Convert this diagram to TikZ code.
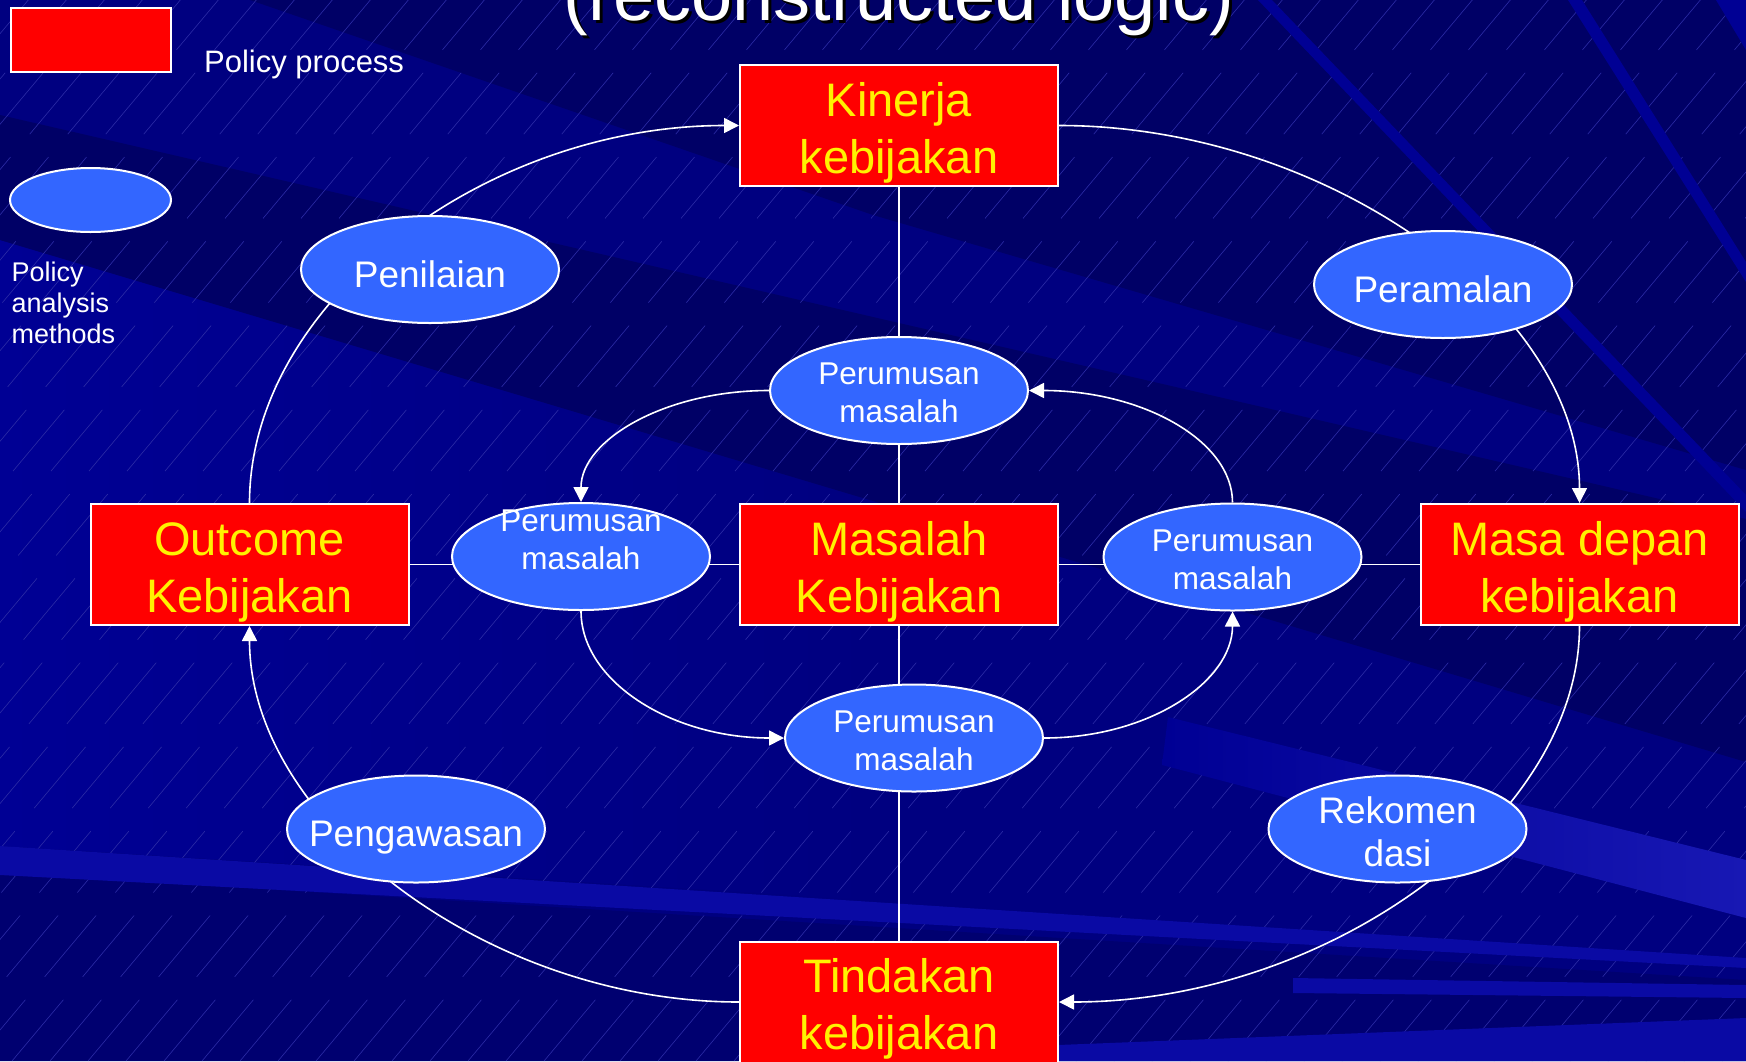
\documentclass[tikz,border=0pt]{standalone}
\usepackage{fontspec}
\setmainfont{Liberation Sans}
\usetikzlibrary{shapes.geometric,arrows.meta}
\definecolor{navy}{HTML}{000080}
\definecolor{navydark}{HTML}{000066}
\definecolor{navydeep}{HTML}{000070}
\definecolor{navymid}{HTML}{000094}
\definecolor{navystreak}{HTML}{000094}
\definecolor{navylight}{HTML}{0A0AA4}
\definecolor{navybright}{HTML}{1818B4}
\definecolor{hatch}{HTML}{2C2CA6}
\definecolor{boxred}{HTML}{FF0000}
\definecolor{ovalblue}{HTML}{3366FF}
\pgfdeclarelayer{back}
\pgfdeclarelayer{lines}
\pgfsetlayers{back,lines,main}
\tikzset{
  procbox/.style={draw=white, line width=2pt, fill=boxred, text=yellow,
    minimum width=318pt, minimum height=121pt, inner sep=0pt, align=center,
    font=\fontsize{47}{57}\selectfont, text height=100pt, text depth=5pt},
  methodoval/.style={ellipse, draw=white, line width=2pt, fill=ovalblue, text=white,
    minimum width=258pt, minimum height=107pt, inner xsep=-20pt, inner ysep=0pt,
    align=center, font=\fontsize{37}{43}\selectfont, text height=35pt, text depth=0pt},
  pmoval/.style={methodoval, font=\fontsize{31.5}{38}\selectfont, text height=64pt},
  link/.style={white, line width=1.6pt},
  flow/.style={link, -{Triangle[length=15pt,width=15pt]}},
  hatchline/.style={hatch, line width=0.6pt, dash pattern=on 80pt off 30pt},
}

\begin{document}
\begin{tikzpicture}[x=1pt,y=-1pt]
\useasboundingbox (0,0) rectangle (1746,1061);

% background of the slide
\begin{pgfonlayer}{back}
\fill[navy] (0,0) rectangle (1746,1061);
\shade[left color=navymid, right color=navy] (0,240) -- (0,846) -- (873,900) -- (873,500) -- cycle;
\fill[navydark] (250,0) -- (1746,0) -- (1746,470) -- (873,215) -- cycle;
\fill[navydark] (0,115) -- (1746,519) -- (1746,762) -- (0,240) -- cycle;
\fill[navydeep] (0,873) -- (1746,980) -- (1746,1061) -- (0,1061) -- cycle;
\foreach \i in {0,...,70} {
  \draw[hatchline] (\i*38-900,1061) -- ++(-50:1400);
}
\shade[left color=navystreak, right color=navybright] (1168,717) -- (1746,860) -- (1746,918) -- (1162,765) -- cycle;
\fill[navylight] (0,846) -- (1746,958) -- (1746,968) -- (0,875) -- cycle;
\fill[navylight] (1293,978) -- (1746,985) -- (1746,998) -- (1293,993) -- cycle;
\fill[navylight] (1058,1061) -- (1058,1045) -- (1746,1018) -- (1746,1061) -- cycle;
\fill[navystreak] (1258,0) -- (1272,0) -- (1746,495) -- (1746,512) -- cycle;
\fill[navystreak] (1568,0) -- (1582,0) -- (1746,262) -- (1746,282) -- cycle;
\fill[navystreak] (1716,0) -- (1746,0) -- (1746,50) -- cycle;
\end{pgfonlayer}

% title, cut by the top of the slide
\begin{scope}
\clip (0,0) rectangle (1746,1061);
\node[anchor=base, text=black, font=\fontsize{74}{80}\selectfont] (titleshadow) at (902,23) {(reconstructed logic)};
\node[anchor=base, text=white, font=\fontsize{74}{80}\selectfont] (title) at (899,20) {(reconstructed logic)};
\end{scope}

% legend
\node[draw=white, line width=2pt, fill=boxred, minimum width=160pt, minimum height=64pt] (legbox) at (90.5,39.5) {};
\node[anchor=base west, inner sep=0pt, text=white, font=\fontsize{31}{37}\selectfont] (legboxtext) at (204,72) {Policy process};
\node[ellipse, draw=white, line width=2pt, fill=ovalblue, minimum width=161pt, minimum height=64pt] (legoval) at (90.5,200) {};
\node[anchor=north west, inner sep=0pt, align=left, text=white, font=\fontsize{27}{31}\selectfont] (legovaltext) at (11.5,262) {Policy\\analysis\\methods};

% policy process
\node[procbox] (kinerja) at (899,125.5) {Kinerja\\kebijakan};
\node[procbox] (outcome) at (249.5,564.5) {Outcome\\Kebijakan};
\node[procbox] (masalah) at (899,564.5) {Masalah\\Kebijakan};
\node[procbox] (masadepan) at (1579.5,564.5) {Masa depan\\kebijakan};
\node[procbox] (tindakan) at (899,1002) {Tindakan\\kebijakan};

% policy analysis methods
\node[methodoval] (penilaian) at (430,269.5) {Penilaian};
\node[methodoval] (peramalan) at (1443,284.5) {Peramalan};
\node[methodoval] (pengawasan) at (416,829) {Pengawasan};
\node[methodoval, text height=75pt] (rekomendasi) at (1397.5,829) {Rekomen\\dasi};

\node[pmoval] (pmtop) at (899,390.5) {Perumusan\\masalah};
\node[pmoval, text height=49pt, text depth=24pt] (pmleft) at (581,556.5) {Perumusan\\masalah};
\node[pmoval] (pmright) at (1232.5,557) {Perumusan\\masalah};
\node[pmoval] (pmbot) at (914,738) {Perumusan\\masalah};

\begin{pgfonlayer}{lines}
\draw[link] (kinerja) -- (tindakan);
\draw[link] (outcome) -- (masadepan);
% outer cycle
\draw[flow] (outcome.north) .. controls +(0,-200) and +(-255,0) .. (kinerja.west);
\draw[flow] (kinerja.east) .. controls +(268,0) and +(0,-194) .. (masadepan.north);
\draw[flow] (masadepan.south) .. controls +(0,194) and +(268,0) .. (tindakan.east);
\draw[flow] (tindakan.west) .. controls +(-252,0) and +(0,194) .. (outcome.south);
% inner cycle
\draw[flow] (pmtop.west) .. controls +(-104,0) and +(0,-62) .. (pmleft.north);
\draw[flow] (pmleft.south) .. controls +(0,70) and +(-113,0) .. (pmbot.west);
\draw[flow] (pmbot.east) .. controls +(105,0) and +(0,70) .. (pmright.south);
\draw[flow] (pmright.north) .. controls +(0,-62) and +(113,0) .. (pmtop.east);
\end{pgfonlayer}
\end{tikzpicture}
\end{document}
